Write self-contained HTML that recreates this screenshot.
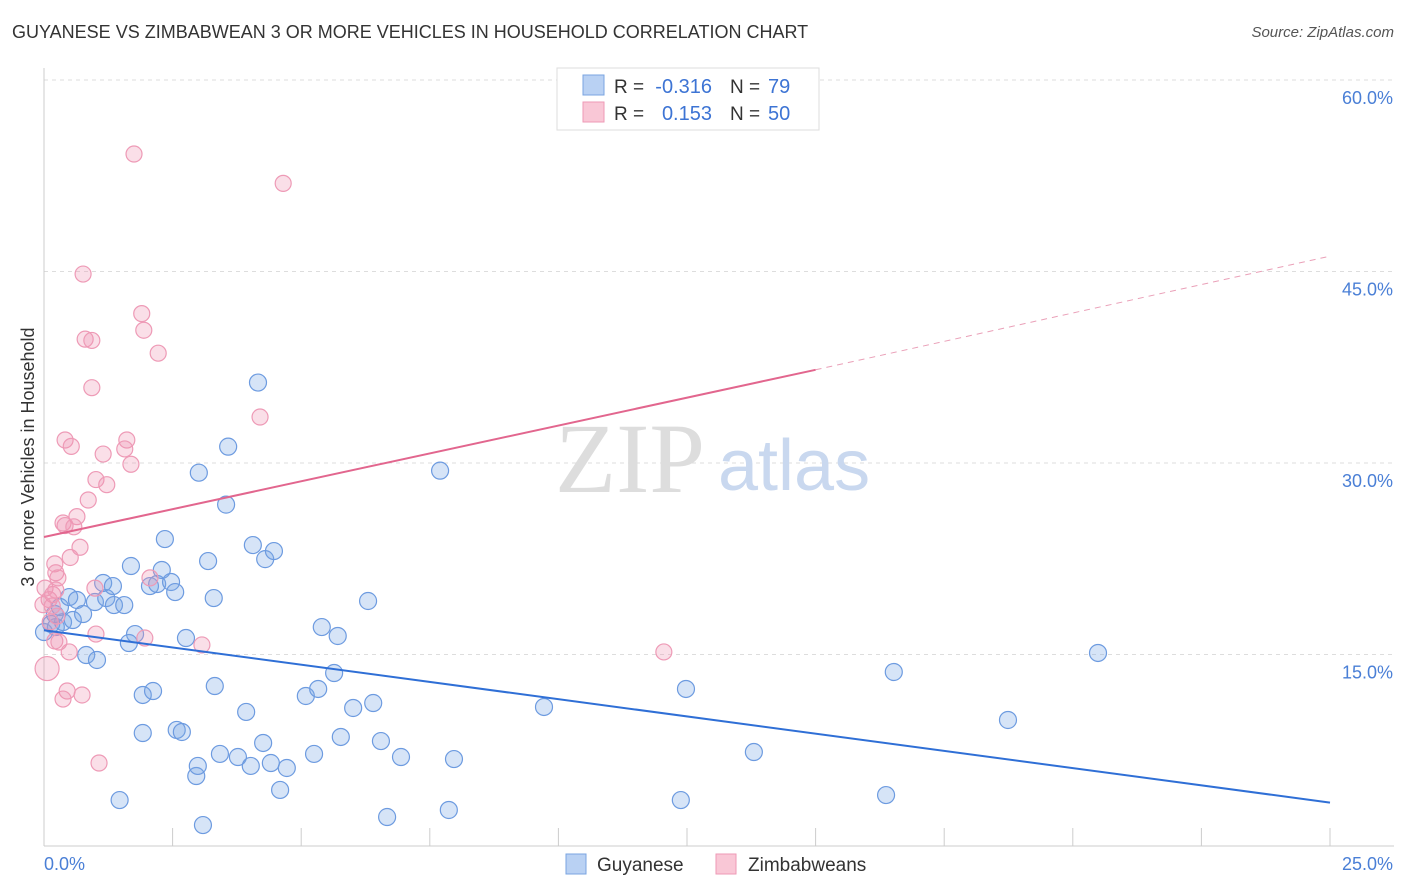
<!DOCTYPE html>
<html><head><meta charset="utf-8">
<style>
body{margin:0;background:#fff;font-family:"Liberation Sans",sans-serif;}
#wrap{position:relative;width:1406px;height:892px;overflow:hidden;}
.t{position:absolute;white-space:nowrap;}
</style></head><body>
<div id="wrap">
<div class="t" style="left:12px;top:22px;font-size:18px;color:#333;">GUYANESE VS ZIMBABWEAN 3 OR MORE VEHICLES IN HOUSEHOLD CORRELATION CHART</div>
<div class="t" style="right:12px;top:24px;font-size:15px;color:#555;font-style:italic;">Source: ZipAtlas.com</div>
<svg id="svg" width="1406" height="892" style="position:absolute;left:0;top:0"></svg>
</div>
<script>
const xTicks=[0,2.5,5,7.5,10,12.5,15,17.5,20,22.5,25];
const yTicks=[15,30,45,60];
const yTickLabels=["15.0%","30.0%","45.0%","60.0%"];
const guyX=[1.47,3.09,6.67,7.87,12.38,16.37,4.59,2.96,2.99,3.42,3.77,4.02,4.26,4.41,4.72,5.25,5.77,6.55,6.94,7.97,1.92,2.58,2.68,3.93,6.01,6.4,5.09,5.33,1.92,2.12,3.32,5.64,9.72,12.48,13.8,16.52,18.74,20.49,0.82,1.03,1.65,1.77,2.76,5.4,5.71,6.3,0,0.14,0.23,0.37,0.56,0.76,0.21,0.31,0.49,0.64,0.99,1.21,1.36,1.56,1.15,1.34,2.06,2.2,2.47,2.55,3.3,1.69,2.29,3.19,4.3,4.06,4.47,2.35,3.54,3.01,3.58,4.16,7.7];
const guyY=[3.6,1.64,2.27,2.82,3.6,3.99,4.39,5.48,6.27,7.21,6.97,6.27,8.07,6.5,6.11,7.21,8.54,8.22,6.97,6.81,8.85,9.09,8.93,10.5,10.81,11.2,11.75,12.3,11.83,12.14,12.53,13.55,10.89,12.3,7.36,13.63,9.87,15.12,14.96,14.57,15.9,16.6,16.29,17.15,16.45,19.19,16.76,17.39,17.15,17.54,17.7,18.17,18.17,18.72,19.5,19.27,19.11,19.42,18.87,18.87,20.6,20.36,20.36,20.52,20.68,19.89,19.42,21.93,21.62,22.32,22.47,23.57,23.1,24.04,26.74,29.24,31.28,36.3,29.4];
const zimX=[1.75,4.65,0.76,1.9,1.94,0.8,0.93,2.22,0.93,4.2,0.41,0.53,1.61,1.57,1.15,1.69,1.01,1.22,0.86,0.64,0.37,0.41,0.58,0.7,0.51,0.21,0.23,0.27,0.02,0.17,0.1,-0.02,0.16,0.99,2.06,0.25,1.01,1.96,3.07,0.21,0.29,0.49,12.05,0.06,0.45,0.37,0.74,1.07,0.12,0.23];
const zimY=[54.2,51.9,44.8,41.7,40.4,39.7,39.6,38.6,35.9,33.6,31.8,31.3,31.8,31.1,30.7,29.9,28.7,28.3,27.1,25.8,25.3,25.1,25,23.4,22.6,22.1,21.4,21,20.2,19.7,19.3,18.9,18.8,20.2,21,18,16.6,16.29,15.75,16.06,15.98,15.2,15.2,13.9,12.14,11.51,11.83,6.5,17.55,20.05];
const zimBig=[0,0,0,0,0,0,0,0,0,0,0,0,0,0,0,0,0,0,0,0,0,0,0,0,0,0,0,0,0,0,0,0,0,0,0,0,0,0,0,0,0,0,0,1,0,0,0,0,0,0];
const guyLine=[0,16.9,25,3.4];
const zimLine=[0,24.2,15,37.3,25,46.2];
const X=v=>44+v*51.44, Y=v=>846-v*12.767;
const svg=document.getElementById('svg');const NS='http://www.w3.org/2000/svg';
function mk(tag,a,name,parent){const e=document.createElementNS(NS,tag);for(const k in a)e.setAttribute(k,a[k]);


(parent||svg).appendChild(e);return e;}
yTicks.forEach((v,i)=>{mk('line',{x1:44,x2:1394,y1:Y(v),y2:Y(v),stroke:'#ddd','stroke-dasharray':'4,4'},'y-gridline');
const t=mk('text',{x:1393,y:Y(v)+24,'text-anchor':'end','font-size':18,fill:'#4a7fd6','font-family':'Liberation Sans'},'y-tick-label');t.textContent=yTickLabels[i];});
mk('line',{x1:44,x2:44,y1:68,y2:846,stroke:'#ccc'},'y-axis-line');
mk('line',{x1:44,x2:1394,y1:846,y2:846,stroke:'#ccc'},'x-axis-line');
xTicks.forEach(v=>mk('line',{x1:X(v),x2:X(v),y1:828,y2:846,stroke:'#ccc'},'x-tick'));
let t=mk('text',{x:44,y:870,'font-size':18,fill:'#4a7fd6','font-family':'Liberation Sans'},'x-min-label');t.textContent='0.0%';
t=mk('text',{x:1393,y:870,'text-anchor':'end','font-size':18,fill:'#4a7fd6','font-family':'Liberation Sans'},'x-max-label');t.textContent='25.0%';
t=mk('text',{x:34,y:457,transform:'rotate(-90 34 457)','text-anchor':'middle','font-size':18,fill:'#333','font-family':'Liberation Sans'},'y-axis-title');t.textContent='3 or more Vehicles in Household';
t=mk('text',{x:555,y:492,'font-size':100,fill:'#ddd','font-family':'Liberation Serif'},'watermark-zip');t.textContent='ZIP';
t=mk('text',{x:718,y:490,'font-size':72,fill:'#c9d8ef','font-family':'Liberation Sans'},'watermark-atlas');t.textContent='atlas';
guyX.forEach((x,i)=>mk('circle',{cx:X(x),cy:Y(guyY[i]),r:8.5,fill:'rgba(120,165,230,0.3)',stroke:'#6d9be0','stroke-width':1.2},'guyanese-point'));
zimX.forEach((x,i)=>mk('circle',{cx:X(x),cy:Y(zimY[i]),r:zimBig[i]?12:8,fill:'rgba(240,150,180,0.3)',stroke:'#ee9ab6','stroke-width':1.2},'zimbabwean-point'));
mk('line',{x1:X(guyLine[0]),y1:Y(guyLine[1]),x2:X(guyLine[2]),y2:Y(guyLine[3]),stroke:'#2f6fd6','stroke-width':2},'guyanese-trendline');
mk('line',{x1:X(zimLine[0]),y1:Y(zimLine[1]),x2:X(zimLine[2]),y2:Y(zimLine[3]),stroke:'#e2668e','stroke-width':2},'zimbabwean-trendline');
mk('line',{x1:X(zimLine[2]),y1:Y(zimLine[3]),x2:X(zimLine[4]),y2:Y(zimLine[5]),stroke:'#eaa0b8','stroke-width':1,'stroke-dasharray':'6,5'},'zimbabwean-trendline-extension');
const g=mk('g',{},'correlation-legend');
mk('rect',{x:557,y:68,width:262,height:62,fill:'#fff',stroke:'#ddd'},'legend-box',g);
mk('rect',{x:583,y:75,width:21,height:20,fill:'#b9d1f3',stroke:'#7aa4e0'},'legend-swatch-guyanese',g);
mk('rect',{x:583,y:102,width:21,height:20,fill:'#f9c7d6',stroke:'#ee9ab6'},'legend-swatch-zimbabwean',g);
[[93,'-0.316','79'],[120,'0.153','50']].forEach(r=>{
let a=mk('text',{x:614,y:r[0],'font-size':19,fill:'#333','font-family':'Liberation Sans'},'legend-r-label',g);a.textContent='R =';
a=mk('text',{x:712,y:r[0],'text-anchor':'end','font-size':20,fill:'#3d74d4','font-family':'Liberation Sans'},'legend-r-value',g);a.textContent=r[1];
a=mk('text',{x:730,y:r[0],'font-size':19,fill:'#333','font-family':'Liberation Sans'},'legend-n-label',g);a.textContent='N =';
a=mk('text',{x:768,y:r[0],'font-size':20,fill:'#3d74d4','font-family':'Liberation Sans'},'legend-n-value',g);a.textContent=r[2];});
mk('rect',{x:566,y:854,width:20,height:20,fill:'#b9d1f3',stroke:'#7aa4e0'},'bottom-legend-swatch-guyanese');
t=mk('text',{x:597,y:871,'font-size':19,fill:'#333','font-family':'Liberation Sans'},'bottom-legend-guyanese');t.textContent='Guyanese';
mk('rect',{x:716,y:854,width:20,height:20,fill:'#f9c7d6',stroke:'#ee9ab6'},'bottom-legend-swatch-zimbabwean');
t=mk('text',{x:748,y:871,'font-size':19,fill:'#333','font-family':'Liberation Sans'},'bottom-legend-zimbabweans');t.textContent='Zimbabweans';
</script>
</body></html>
